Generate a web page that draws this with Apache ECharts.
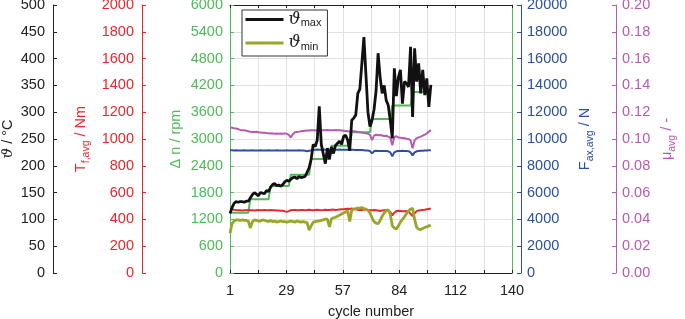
<!DOCTYPE html>
<html>
<head>
<meta charset="utf-8">
<script src="https://cdn.jsdelivr.net/npm/echarts@6/dist/echarts.min.js"></script>
<style>
  html, body { margin: 0; padding: 0; background: #fff; }
  #chart { width: 685px; height: 319px; }
</style>
</head>
<body>
<div id="chart"></div>
<script>
// cycle numbers 1..100
const cycles = Array.from({ length: 100 }, (_, i) => i + 1);

// temperatures in °C
const thetaMax = [
  111, 122, 130, 133, 132, 133, 133, 132, 134, 134,
  140, 146, 150, 147, 144, 150, 149, 148, 154, 152,
  160, 165, 167, 163, 164, 162, 165, 170, 173, 171,
  175, 178, 179, 176, 180, 178, 179, 180, 188, 196,
  212, 240, 236, 248, 311, 240, 222, 204, 233, 212,
  235, 223, 238, 242, 246, 240, 255, 257, 248, 228,
  285, 289, 295, 335, 343, 391, 440, 370, 300, 273,
  285, 305, 340, 410, 365, 335, 350, 322, 313, 285,
  251, 382, 330, 365, 379, 316, 357, 354, 347, 422,
  291, 419, 357, 391, 335, 379, 332, 363, 310, 351
];
const thetaMin = [
  74, 92, 97, 99, 99, 98, 99, 98, 98, 97,
  84, 95, 99, 98, 97, 97, 99, 98, 97, 96,
  98, 96, 97, 95, 96, 97, 96, 96, 95, 96,
  97, 96, 95, 97, 96, 95, 96, 95, 94, 80,
  88, 95, 96, 97, 97, 98, 99, 101, 100, 86,
  101, 103, 104, 106, 108, 110, 112, 114, 116, 96,
  117, 119, 120, 121, 121, 122, 120, 119, 117, 112,
  103, 96, 93, 92, 98, 106, 112, 116, 118, 110,
  88, 84, 82, 88, 95, 100, 105, 111, 116, 119,
  121, 100, 85, 82, 81, 83, 85, 86, 88, 89
];
// friction torque in Nm
const torque = [
  481, 476, 472, 470, 469, 468, 467, 468, 469, 470,
  469, 468, 467, 469, 470, 469, 468, 470, 469, 468,
  470, 469, 468, 466, 466, 465, 464, 460, 456, 462,
  468, 470, 471, 469, 468, 470, 471, 469, 470, 472,
  470, 469, 471, 472, 470, 469, 470, 472, 471, 470,
  472, 473, 471, 472, 474, 475, 476, 478, 480, 478,
  481, 478, 475, 472, 470, 471, 473, 472, 470, 468,
  469, 470, 468, 466, 463, 466, 469, 470, 466, 455,
  430, 450, 462, 465, 463, 461, 460, 462, 458, 442,
  425, 445, 462, 466, 468, 470, 472, 475, 478, 481
];
// axial force in N
const force = [
  9167, 9160, 9150, 9155, 9150, 9145, 9150, 9155, 9150, 9148,
  9150, 9152, 9150, 9148, 9150, 9155, 9150, 9145, 9150, 9152,
  9150, 9148, 9150, 9152, 9150, 9150, 9148, 9150, 9152, 9150,
  9150, 9148, 9150, 9150, 9152, 9150, 9148, 9120, 9080, 9120,
  9150, 9180, 9200, 9210, 9200, 9205, 9210, 9200, 9210, 9205,
  9200, 9210, 9205, 9200, 9210, 9200, 9205, 9200, 9195, 9180,
  9200, 9190, 9185, 9180, 9175, 9170, 9160, 9150, 9140, 9100,
  8930, 9080, 9120, 9110, 9100, 9110, 9105, 9100, 9080, 9000,
  8700, 9000, 9080, 9100, 9110, 9120, 9110, 9100, 9090, 9000,
  8780, 9000, 9080, 9100, 9120, 9130, 9140, 9150, 9160, 9167
];
// friction coefficient
const mu = [
  0.1086, 0.1084, 0.1080, 0.1078, 0.1074, 0.1068, 0.1066, 0.1066, 0.1062, 0.1058,
  0.1054, 0.1053, 0.1052, 0.1054, 0.1050, 0.1048, 0.1046, 0.1047, 0.1044, 0.1043,
  0.1041, 0.1042, 0.1040, 0.1041, 0.1039, 0.1041, 0.1040, 0.1042, 0.1040, 0.1030,
  0.1011, 0.1035, 0.1050, 0.1053, 0.1055, 0.1058, 0.1060, 0.1062, 0.1063, 0.1064,
  0.1066, 0.1066, 0.1064, 0.1066, 0.1067, 0.1066, 0.1065, 0.1066, 0.1067, 0.1066,
  0.1065, 0.1066, 0.1067, 0.1066, 0.1066, 0.1064, 0.1062, 0.1060, 0.1058, 0.1055,
  0.1060, 0.1058, 0.1056, 0.1052, 0.1050, 0.1048, 0.1045, 0.1042, 0.1040, 0.1030,
  0.0992, 0.1025, 0.1032, 0.1028, 0.1030, 0.1026, 0.1022, 0.1024, 0.1018, 0.1010,
  0.0954, 0.1015, 0.1020, 0.1012, 0.1010, 0.1008, 0.1006, 0.1002, 0.1000, 0.0990,
  0.0930, 0.0990, 0.1005, 0.1012, 0.1018, 0.1025, 0.1033, 0.1042, 0.1055, 0.1066
];
// speed difference steps in rpm
const dnCycles = [1, 10, 11, 20, 21, 30, 31, 40, 41, 50, 51, 60, 61, 70, 71, 80, 81, 90, 91, 100];
const dnValues = [1350, 1350, 1650, 1650, 1950, 1950, 2200, 2200, 2550, 2550,
  2850, 2850, 3150, 3150, 3450, 3450, 3750, 3750, 4050, 4050];

// x axis runs 1..140 with ten equal steps, labels every second step
const xFirst = 1;
const xLast = 140;
const xSteps = 10;

const font = 'Liberation Sans, Arial, sans-serif';
const C = {
  theta: '#222222',
  torque: '#e8282d',
  speed: '#4fba58',
  force: '#2c4fa4',
  mu: '#b65bb2',
  thetaMin: '#9aa62b',
  grid: '#e2e2e2'
};

const pairs = (xs, ys) => xs.map((x, i) => [x - xFirst, ys[i]]);
const plain = v => String(v);

function subRich(color) {
  return {
    sub: { fontSize: 10.5, lineHeight: 10, verticalAlign: 'bottom', color: color, fontFamily: font },
    it: { fontSize: 15, fontStyle: 'italic', fontFamily: 'DejaVu Serif', color: color }
  };
}

function yAxis(cfg) {
  return {
    type: 'value',
    position: cfg.position,
    offset: cfg.offset,
    min: 0,
    max: cfg.max,
    interval: cfg.interval,
    name: cfg.name,
    nameLocation: 'middle',
    nameRotate: 90,
    nameGap: cfg.nameGap,
    nameTextStyle: {
      color: cfg.color, fontSize: 14.5, fontFamily: font,
      lineHeight: cfg.nameLine || 18, rich: subRich(cfg.color)
    },
    axisLine: { show: cfg.line !== false, onZero: false, lineStyle: { color: cfg.color, width: 1 } },
    axisTick: { show: cfg.ticks !== false, inside: true, length: 4, lineStyle: { color: cfg.color } },
    axisLabel: {
      show: cfg.labels !== false, color: cfg.color, fontSize: 14.5, fontFamily: font,
      margin: cfg.margin || 8, formatter: cfg.formatter || plain
    },
    splitLine: { show: !!cfg.grid, lineStyle: { color: C.grid, width: 1 } }
  };
}

const chart = echarts.init(document.getElementById('chart'), null, { renderer: 'canvas' });

const xCommon = {
  type: 'value',
  min: 0,
  max: xLast - xFirst,
  interval: (xLast - xFirst) / xSteps,
  axisLine: { show: true, onZero: false, lineStyle: { color: '#222', width: 1 } },
  axisTick: { show: true, inside: true, length: 3, lineStyle: { color: '#222' } }
};

const option = {
  animation: false,
  backgroundColor: '#fff',
  grid: { left: 230, right: 173, top: 5, bottom: 46, containLabel: false, outerBoundsMode: 'none' },
  legend: {
    data: ['ϑmax', 'ϑmin'],
    orient: 'vertical',
    left: 242,
    top: 10,
    backgroundColor: '#fff',
    borderColor: '#333',
    borderWidth: 1,
    borderRadius: 0,
    padding: [1, 6, 4, 2],
    itemGap: 6,
    itemWidth: 38,
    itemHeight: 14,
    itemStyle: { color: 'transparent', borderColor: 'transparent', borderWidth: 0 },
    lineStyle: { width: 3 },
    formatter: n => '{sym|ϑ}{sub|' + n.slice(1) + '}',
    textStyle: {
      color: '#222',
      rich: {
        sym: { fontSize: 17, fontStyle: 'italic', fontFamily: 'DejaVu Serif', color: '#222', lineHeight: 18 },
        sub: { fontSize: 11, fontFamily: font, color: '#222', lineHeight: 10, verticalAlign: 'bottom' }
      }
    }
  },
  xAxis: [
    Object.assign({}, xCommon, {
      position: 'bottom',
      name: 'cycle number',
      nameLocation: 'middle',
      nameGap: 31,
      nameTextStyle: { color: '#222', fontSize: 14.5, fontFamily: font },
      axisLabel: {
        color: '#222', fontSize: 14.5, fontFamily: font, margin: 10,
        showMinLabel: true, showMaxLabel: true,
        formatter: (v, i) => (i % 2 === 0 ? String(Math.round(v + xFirst)) : '')
      },
      splitLine: { show: true, lineStyle: { color: C.grid, width: 1 } }
    }),
    Object.assign({}, xCommon, {
      position: 'top',
      axisLabel: { show: false },
      splitLine: { show: false }
    })
  ],
  yAxis: [
    yAxis({ position: 'left', offset: 177, max: 500, interval: 50, color: C.theta,
      name: '{it|ϑ} / °C', nameGap: 35 }),
    yAxis({ position: 'left', offset: 88, max: 2000, interval: 200, color: C.torque,
      name: 'T{sub|f,avg} / Nm', nameGap: 50, nameLine: 22 }),
    yAxis({ position: 'left', offset: 0, max: 6000, interval: 600, color: C.speed,
      name: 'Δ n / rpm', nameGap: 45, grid: true, margin: 7 }),
    yAxis({ position: 'right', offset: 9, max: 20000, interval: 2000, color: C.force,
      name: 'F{sub|ax,avg} / N', nameGap: 53, nameLine: 22, margin: 6 }),
    yAxis({ position: 'right', offset: 104, max: 0.2, interval: 0.02, color: C.mu,
      name: 'μ{sub|avg} / -', nameGap: 40, nameLine: 22, margin: 6,
      formatter: v => v.toFixed(2) }),
    yAxis({ position: 'right', offset: 0, max: 6000, interval: 600, color: C.speed,
      ticks: false, labels: false })
  ],
  series: [
    { name: 'Δn', type: 'line', yAxisIndex: 2, data: pairs(dnCycles, dnValues),
      symbol: 'none', lineStyle: { color: C.speed, width: 2 }, itemStyle: { color: C.speed } },
    { name: 'T', type: 'line', yAxisIndex: 1, data: pairs(cycles, torque),
      symbol: 'none', lineStyle: { color: C.torque, width: 2 }, itemStyle: { color: C.torque } },
    { name: 'F', type: 'line', yAxisIndex: 3, data: pairs(cycles, force),
      symbol: 'none', lineStyle: { color: C.force, width: 2 }, itemStyle: { color: C.force } },
    { name: 'mu', type: 'line', yAxisIndex: 4, data: pairs(cycles, mu),
      symbol: 'none', lineStyle: { color: C.mu, width: 2 }, itemStyle: { color: C.mu } },
    { name: 'ϑmin', type: 'line', yAxisIndex: 0, data: pairs(cycles, thetaMin),
      symbol: 'none', lineStyle: { color: C.thetaMin, width: 2.8 }, itemStyle: { color: C.thetaMin } },
    { name: 'ϑmax', type: 'line', yAxisIndex: 0, data: pairs(cycles, thetaMax),
      symbol: 'none', lineStyle: { color: '#111', width: 2.8 }, itemStyle: { color: '#111' } }
  ]
};

chart.setOption(option);
</script>
</body>
</html>
